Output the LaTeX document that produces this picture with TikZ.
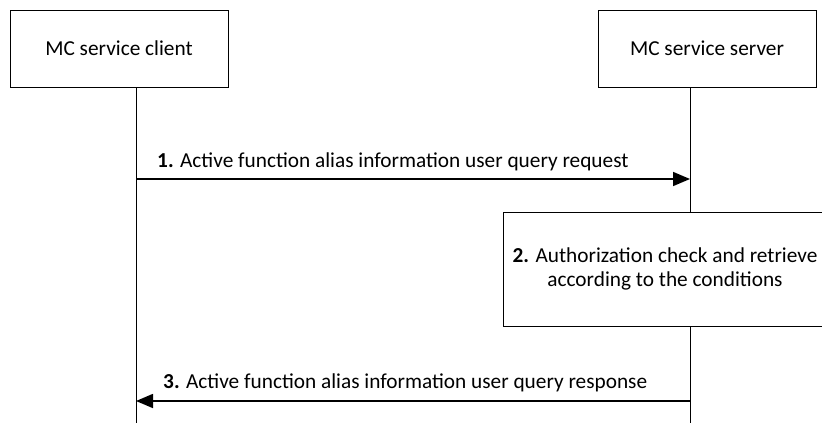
\documentclass[tikz,border=0pt]{standalone}
\usepackage{fontspec}
\setmainfont{Carlito}
\usetikzlibrary{arrows.meta}
\begin{document}
\begin{tikzpicture}[x=1pt,y=1pt,
  entity/.style={draw,line width=0.8pt,minimum width=218pt,minimum height=77pt,font=\fontsize{21.3}{25}\selectfont,inner sep=0pt},
  lifeline/.style={line width=0.8pt},
  msg/.style={line width=1.6pt,-{Triangle[length=17pt,width=14pt]}},
  lbl/.style={font=\fontsize{21.3}{25}\selectfont,inner sep=0pt,anchor=base west},
  proc/.style={draw,line width=0.8pt,fill=white,minimum width=324pt,minimum height=114pt,font=\fontsize{21.3}{24.5}\selectfont,align=center,inner sep=0pt}]
\useasboundingbox (0,0) rectangle (822,-423);
\node[entity] (client) at (119,-48.5) {MC service client};
\node[entity] (server) at (707,-48.5) {MC service server};
\coordinate (cb) at (136,-423);
\coordinate (sb) at (690,-423);
\draw[lifeline] (client.south -| cb) -- (cb);
\draw[lifeline] (server.south -| sb) -- (sb);
\coordinate (m1s) at (136,-179);
\coordinate (m1e) at (690,-179);
\draw[msg] (m1s) -- (m1e);
\node[lbl] (l1) at (157,-167) {\textbf{1.} Active function alias information user query request};
\node[proc] (p2) at (665,-269) {\textbf{2.} Authorization check and retrieve\\according to the conditions};
\coordinate (m3s) at (690,-401);
\coordinate (m3e) at (136,-401);
\draw[msg] (m3s) -- (m3e);
\node[lbl] (l3) at (163,-388) {\textbf{3.} Active function alias information user query response};
\end{tikzpicture}
\end{document}
